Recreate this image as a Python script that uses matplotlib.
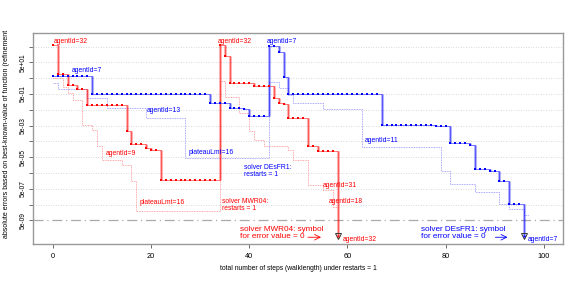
import numpy as np
import matplotlib
matplotlib.use("Agg")
import matplotlib.pyplot as plt

plt.rcParams['font.family'] = ['Liberation Sans', 'DejaVu Sans']

# best agent per solver: step where a new level starts, and the level
red_steps = [0, 1, 3, 5, 7, 15, 16, 19, 20, 22, 34, 35, 36, 41, 45, 46, 47, 48, 52, 54]
red_vals = [680, 9.2, 1.86, 1.0, 0.0975, 2.2e-3, 3.6e-4, 1.9e-4, 1.35e-4, 1.8e-6,
            680, 125, 2.6, 1.54, 0.28, 0.13, 0.113, 0.0155, 2.7e-4, 1.3e-4]
red_zero = 58

blue_steps = [0, 8, 32, 36, 39, 40, 44, 46, 47, 48, 67, 78, 81, 85, 86, 89, 91, 93]
blue_vals = [6.9, 0.48, 0.13, 0.069, 0.055, 0.0207, 532, 213, 5.7, 0.48,
             5.8e-3, 4.6e-3, 3.9e-4, 2.9e-4, 9.1e-6, 7.1e-6, 1.6e-6, 5.1e-8]
blue_zero = 96

# other agents (dotted), both restarts joined
red_other_steps = [0, 2, 3, 4, 6, 8, 9, 10, 14, 16, 17,
                   34, 35, 38, 40, 41, 43, 48, 49, 52, 55, 57]
red_other_vals = [5.1, 1.45, 0.56, 0.21, 5.6e-3, 2.7e-3, 2.4e-4, 3.5e-5, 1.7e-5, 1.5e-6, 2.1e-8,
                  3.3, 0.34, 0.031, 2.3e-3, 6.4e-4, 2.7e-4, 1.5e-4, 3.5e-5, 9.3e-7, 4.1e-7, 3.3e-8]
red_other_end = 58

blue_other_steps = [0, 1, 7, 11, 19, 27,
                    44, 46, 48, 49, 55, 63, 79, 81, 86, 91, 93, 96]
blue_other_vals = [2.4, 1.0, 0.29, 0.063, 0.0148, 4.5e-5,
                   3.0, 1.15, 0.44, 0.13, 0.055, 2.2e-4, 7.1e-6, 1.0e-6, 3.0e-7, 5.1e-8, 2.5e-8, 1.03e-8]
blue_other_end = 97

zero_val = 5e-10
threshold = 5e-09


def expand(starts, vals, end):
    counts = np.diff(list(starts) + [end])
    return np.arange(starts[0], end), np.repeat(vals, counts)


fig = plt.figure(figsize=(5.81, 2.87), dpi=100)
ax = fig.add_axes([0.0573, 0.1488, 0.9122, 0.7352])
ax.set_yscale('log')
ax.set_xlim(-4, 104)
ax.set_ylim(1.54e-10, 3.5e3)

yt = [5 * 10.0 ** k for k in range(2, -10, -1)]
for v in yt:
    if v != threshold:
        ax.axhline(v, color='#cccccc', lw=0.6, ls=(0, (1, 2)), zorder=0)
ax.axhline(threshold, color='#aaaaaa', lw=0.9, ls=(0, (8, 3, 1, 3)), zorder=0)

# dotted traces of the other agents
for st, vl, end, col in [(red_other_steps, red_other_vals, red_other_end, '#ff7070'),
                         (blue_other_steps, blue_other_vals, blue_other_end, '#7070ff')]:
    xs = list(st) + [end]
    ys = list(vl) + [vl[-1]]
    ax.step(xs, ys, where='post', color=col, lw=0.6, ls=(0, (1, 1)), alpha=0.8, zorder=1)

# best agent traces
for st, vl, z, col in [(red_steps, red_vals, red_zero, 'red'),
                       (blue_steps, blue_vals, blue_zero, 'blue')]:
    xs, ys = expand(st, vl, z)
    xx = np.append(xs, z)
    yy = np.append(ys, zero_val)
    ax.step(xx, yy, where='post', color=col, lw=0.6, alpha=0.6, zorder=2)
    jump = yy[1:] != yy[:-1]
    ax.vlines(xx[1:][jump], yy[:-1][jump], yy[1:][jump], color=col, lw=2.2, alpha=0.3, zorder=2)
    ax.plot(xs, ys, 's', color=col, ms=2.0, mew=0, zorder=3)
    ax.plot([z], [zero_val], 'v', mfc='none', mec='#333333', ms=4, mew=0.7, zorder=3)
    ax.plot([z], [zero_val], 'o', color=col, ms=1.6, mew=0, zorder=4)

fs = 4.9
labels = [
    (0.2, 1.1e3, 'agentId=32', 'red'),
    (3.8, 16, 'agentId=7', 'blue'),
    (19.1, 0.043, 'agentId=13', 'blue'),
    (10.8, 8.3e-5, 'agentId=9', 'red'),
    (17.6, 6.5e-8, 'plateauLmt=16', 'red'),
    (27.7, 1.0e-4, 'plateauLmt=16', 'blue'),
    (33.5, 1.1e3, 'agentId=32', 'red'),
    (43.6, 1.1e3, 'agentId=7', 'blue'),
    (63.5, 5.5e-4, 'agentId=11', 'blue'),
    (55.0, 8.4e-7, 'agentId=31', 'red'),
    (56.3, 8.2e-8, 'agentId=18', 'red'),
    (59.1, 3.2e-10, 'agentId=32', 'red'),
    (96.8, 3.1e-10, 'agentId=7', 'blue'),
]
for x, y, s, c in labels:
    ax.text(x, y, s, color=c, fontsize=fs, ha='left', va='center')

ax.text(39.0, 6.6e-6, 'solver DEsFR1:\nrestarts = 1', color='blue', fontsize=fs,
        ha='left', va='center', linespacing=1.15)
ax.text(34.5, 4.7e-8, 'solver MWR04:\nrestarts = 1', color='red', fontsize=fs,
        ha='left', va='center', linespacing=1.15)

ax.text(38.1, 8.1e-10, 'solver MWR04: symbol\nfor error value = 0', color='red', fontsize=5.9,
        ha='left', va='center', linespacing=1.05)
ax.text(75.1, 8.1e-10, 'solver DEsFR1: symbol\nfor error value = 0', color='blue', fontsize=5.9,
        ha='left', va='center', linespacing=1.05)
ax.annotate('', xy=(55.2, 4.3e-10), xytext=(51.4, 4.3e-10),
            arrowprops=dict(arrowstyle='->', color='red', lw=0.6))
ax.annotate('', xy=(93.2, 4.3e-10), xytext=(89.6, 4.3e-10),
            arrowprops=dict(arrowstyle='->', color='blue', lw=0.6))

ax.set_xticks([0, 20, 40, 60, 80, 100])
ax.set_yticks(yt)
ax.set_yticklabels([f"{v:.0e}" if i % 2 == 1 else '' for i, v in enumerate(yt)])
ax.minorticks_off()
ax.tick_params(axis='x', labelsize=5.3, length=3, width=0.6, color='#555555', pad=3.5)
ax.tick_params(axis='y', labelsize=4.8, length=3, width=0.6, color='#555555', pad=1.5,
               labelrotation=90)
for lbl in ax.get_yticklabels():
    lbl.set_va('center')
for sp in ax.spines.values():
    sp.set_color('#999999')
    sp.set_linewidth(1.0)

fig.text(0.513, 0.066, 'total number of steps (walklength) under restarts = 1',
         fontsize=4.9, ha='center', va='center')
fig.text(0.012, 0.535, 'absolute errors based on best-known-value of function (refinement',
         fontsize=5.0, rotation=90, ha='center', va='center')

fig.savefig('out.png', dpi=100)
